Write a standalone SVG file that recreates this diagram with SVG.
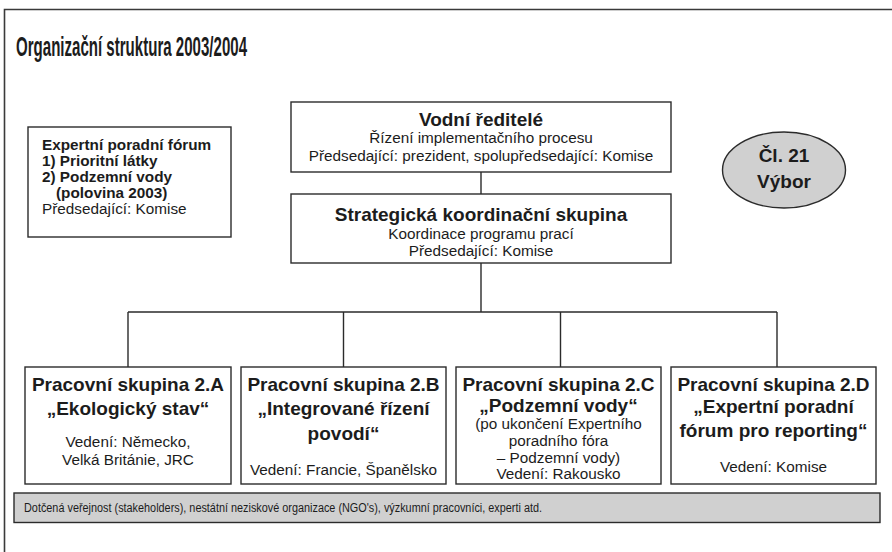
<svg xmlns="http://www.w3.org/2000/svg" width="892" height="552" viewBox="0 0 892 552">
<style>
text{font-family:"Liberation Sans",Arial,Helvetica,sans-serif;fill:#1c1c1c}
.box{fill:#fff;stroke:#2b2b2b;stroke-width:1.4}
.grey{fill:#d0d0d0;stroke:#2b2b2b;stroke-width:1.4}
.b{font-weight:bold}
.h{font-size:19px;font-weight:bold;text-anchor:middle}
.r{font-size:15.3px;text-anchor:middle}
.e{font-size:15.3px}
.conn{fill:none;stroke:#2b2b2b;stroke-width:1.4}
</style>
<rect width="892" height="552" fill="#fff"/>
<path d="M4.5 552V9.5H892" fill="none" stroke="#3a3a3a" stroke-width="1.6"/>
<text x="16" y="56" font-size="27" font-weight="bold" textLength="231" lengthAdjust="spacingAndGlyphs">Organizační struktura 2003/2004</text>

<g id="connectors" class="conn">
<path d="M481 172V194M481 263V312M128 312H777M128 312V367M343.5 312V367M560.5 312V367M777 312V367"/>
</g>

<g id="expertni-forum">
<rect class="box" x="28" y="127" width="203" height="110"/>
<text class="e b" x="42" y="150">Expertní poradní fórum</text>
<text class="e b" x="42" y="166">1) Prioritní látky</text>
<text class="e b" x="42" y="182">2) Podzemní vody</text>
<text class="e b" x="56" y="198">(polovina 2003)</text>
<text class="e" x="42" y="214">Předsedající: Komise</text>
</g>

<g id="vodni-reditele">
<rect class="box" x="291" y="102" width="380" height="70"/>
<text class="h" x="481" y="126">Vodní ředitelé</text>
<text class="r" x="481" y="143">Řízení implementačního procesu</text>
<text class="r" x="481" y="161">Předsedající: prezident, spolupředsedající: Komise</text>
</g>

<g id="strategicka-skupina">
<rect class="box" x="291" y="194" width="380" height="69"/>
<text class="h" x="481" y="220.5">Strategická koordinační skupina</text>
<text class="r" x="481" y="238.5">Koordinace programu prací</text>
<text class="r" x="481" y="256">Předsedající: Komise</text>
</g>

<g id="vybor">
<ellipse class="grey" cx="784" cy="170" rx="61.5" ry="38"/>
<text class="h" x="784" y="161.5" font-size="18.5">Čl. 21</text>
<text class="h" x="784" y="188" font-size="18.5">Výbor</text>
</g>

<g id="skupina-2a">
<rect class="box" x="25" y="367" width="206" height="117"/>
<text class="h" x="128" y="390.5">Pracovní skupina 2.A</text>
<text class="h" x="128" y="415">„Ekologický stav“</text>
<text class="r" x="128" y="447">Vedení: Německo,</text>
<text class="r" x="128" y="465">Velká Británie, JRC</text>
</g>

<g id="skupina-2b">
<rect class="box" x="241" y="367" width="205" height="117"/>
<text class="h" x="343.5" y="390.5">Pracovní skupina 2.B</text>
<text class="h" x="343.5" y="415">„Integrované řízení</text>
<text class="h" x="343.5" y="440">povodí“</text>
<text class="r" x="343.5" y="475">Vedení: Francie, Španělsko</text>
</g>

<g id="skupina-2c">
<rect class="box" x="456" y="367" width="205" height="117"/>
<text class="h" x="558.5" y="390.5">Pracovní skupina 2.C</text>
<text class="h" x="558.5" y="411.5">„Podzemní vody“</text>
<text class="r" x="558.5" y="429">(po ukončení Expertního</text>
<text class="r" x="558.5" y="446">poradního fóra</text>
<text class="r" x="558.5" y="463">– Podzemní vody)</text>
<text class="r" x="558.5" y="479">Vedení: Rakousko</text>
</g>

<g id="skupina-2d">
<rect class="box" x="671" y="367" width="205" height="117"/>
<text class="h" x="773.5" y="390.5">Pracovní skupina 2.D</text>
<text class="h" x="773.5" y="412.5">„Expertní poradní</text>
<text class="h" x="773.5" y="436.5">fórum pro reporting“</text>
<text class="r" x="773.5" y="472">Vedení: Komise</text>
</g>

<g id="verejnost">
<rect class="grey" x="14" y="493" width="866" height="29.5"/>
<text x="24" y="512" font-size="12.5" textLength="518" lengthAdjust="spacingAndGlyphs">Dotčená veřejnost (stakeholders), nestátní neziskové organizace (NGO's), výzkumní pracovníci, experti atd.</text>
</g>
</svg>
